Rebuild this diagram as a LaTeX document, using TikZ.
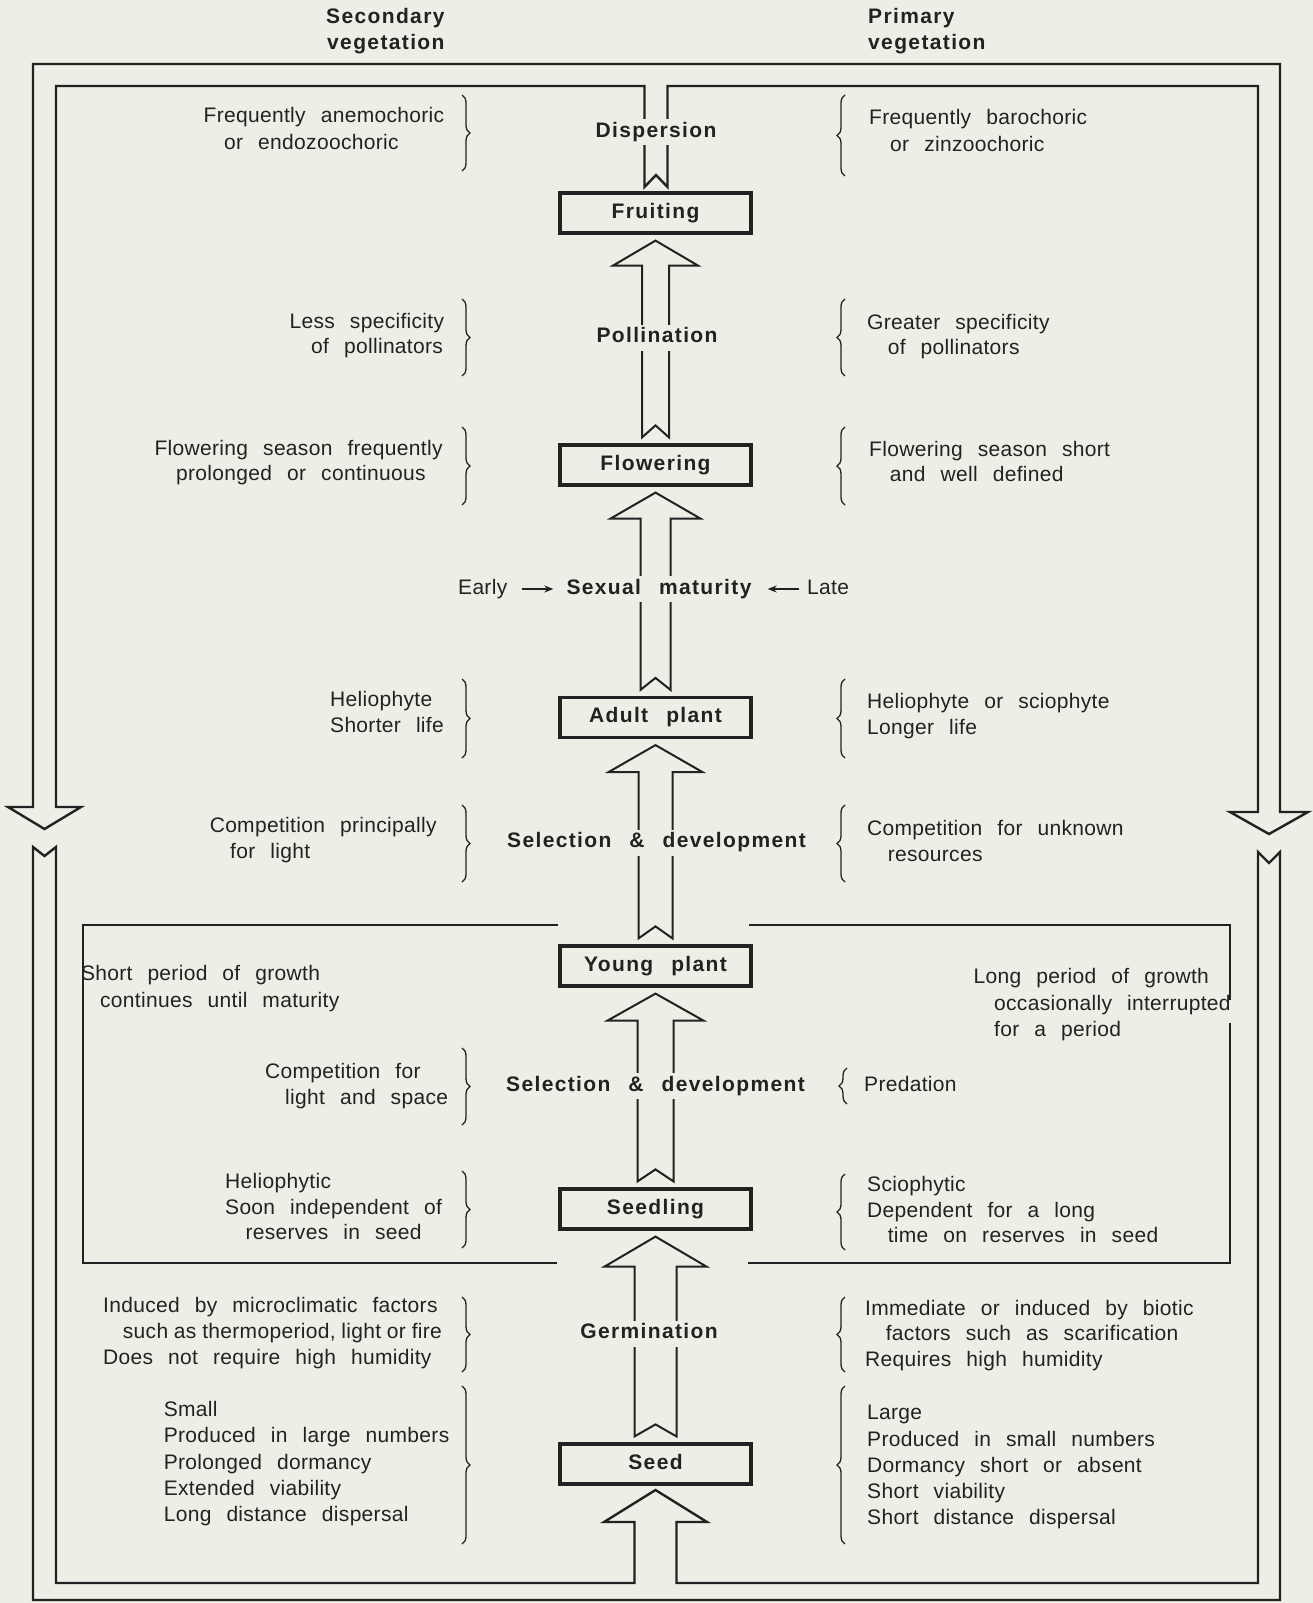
\documentclass[tikz,border=0pt]{standalone}
\usepackage{fontspec}
\setmainfont{Liberation Sans}
\newfontfamily\regfont{Liberation Sans}[LetterSpace=1.5,WordSpace=2.45]
\newfontfamily\lblfont{Liberation Sans}[LetterSpace=6.5,WordSpace=2.5]
\usetikzlibrary{calc,decorations.pathreplacing,arrows.meta}
\definecolor{bg}{RGB}{236,239,229}
\definecolor{ink}{RGB}{34,34,34}
\tikzset{
  txt/.style={inner sep=0pt, text height=15pt, text depth=5pt, anchor=west, text=ink,
    font=\regfont\fontsize{21}{26}\selectfont},
  lbl/.style={inner sep=3pt, text height=15pt, text depth=5pt, text=ink, fill=bg,
    font=\lblfont\bfseries\fontsize{21}{26}\selectfont},
  hdr/.style={lbl, fill=none, inner sep=0pt, anchor=west},
  stage/.style={draw=ink, line width=3.2pt, fill=bg, minimum width=191pt, minimum height=40pt,
    inner sep=0pt, text height=15pt, text depth=5pt, text=ink,
    font=\lblfont\bfseries\fontsize{21}{26}\selectfont},
  frame/.style={draw=ink, line width=2.4pt, line join=miter},
  blk/.style={draw=ink, line width=2pt, line join=miter},
  thinframe/.style={draw=ink, line width=1.5pt},
  brc/.style={draw=ink, line width=1.3pt, decorate, decoration={brace, amplitude=8pt}},
  sarr/.style={draw=ink, line width=1.4pt, -{Stealth[length=9pt,width=7pt]}},
}
\newcommand\tline[4]{\node[txt] (#1) at (#2,#3) {#4};}
% block arrow from lower node #1 up to upper node #2: shaft half width #3, head half width #4, head length #5
\newcommand\blockarrow[5]{%
  \draw[blk] let \p1=(#2.south), \p2=(#1.north) in
    (\x1-#3,\y2+6pt) -- (\x1-#3,\y1-6pt-#5) -- (\x1-#4,\y1-6pt-#5) -- (\x1,\y1-6pt)
    -- (\x1+#4,\y1-6pt-#5) -- (\x1+#3,\y1-6pt-#5) -- (\x1+#3,\y2+6pt) -- (\x1,\y2+18pt) -- cycle;}
\newcommand\leftbrc[3]{\draw[brc] (#1,#2) -- (#1,#3);}
\newcommand\rightbrc[3]{\draw[brc] (#1,#3) -- (#1,#2);}
\begin{document}
\begin{tikzpicture}[x=1pt,y=-1pt]
\useasboundingbox (0,0) rectangle (1313,1603);
\fill[bg] (0,0) rectangle (1313,1603);

% headers
\node[hdr] (h1a) at (326,19) {Secondary};
\node[hdr] (h1b) at (327,45) {vegetation};
\node[hdr] (h2a) at (868,19) {Primary};
\node[hdr] (h2b) at (868,45) {vegetation};

% outer loop, upper part
\draw[frame] (644.5,187) -- (656,175) -- (667.5,187) -- (667.5,86) -- (1258,86) -- (1258,812)
  -- (1230,812) -- (1269,834) -- (1308,812) -- (1280,812) -- (1280,64) -- (33,64) -- (33,807)
  -- (8,807) -- (44.5,829) -- (81,807) -- (56,807) -- (56,86) -- (644.5,86) -- cycle;
% outer loop, lower part
\draw[frame] (33,847) -- (44.5,856) -- (56,847) -- (56,1583) -- (634.5,1583) -- (634.5,1522)
  -- (604,1522) -- (655.5,1490) -- (707,1522) -- (676.5,1522) -- (676.5,1583) -- (1258,1583)
  -- (1258,852) -- (1269,863) -- (1280,852) -- (1280,1600) -- (33,1600) -- cycle;

% inner thin frame
\draw[thinframe] (558,925) -- (83,925) -- (83,1263) -- (557,1263);
\draw[thinframe] (749,925) -- (1230,925) -- (1230,1000);
\draw[thinframe] (1230,1023) -- (1230,1263) -- (748,1263);

% stage boxes
\node[stage] (fruit) at (655.5,213) {Fruiting};
\node[stage] (flower) at (655.5,465) {Flowering};
\node[stage] (adult) at (655.5,717.5) {Adult plant};
\node[stage] (young) at (655.5,966) {Young plant};
\node[stage] (seedling) at (655.5,1209) {Seedling};
\node[stage] (seed) at (655.5,1464) {Seed};

% block arrows
\blockarrow{flower}{fruit}{13.5pt}{42.5pt}{25pt}
\blockarrow{adult}{flower}{15pt}{45pt}{26pt}
\blockarrow{young}{adult}{17pt}{47pt}{27pt}
\blockarrow{seedling}{young}{18pt}{48pt}{27pt}
\blockarrow{seed}{seedling}{21pt}{51pt}{30pt}

% arrow labels
\node[lbl] (disp) at (656,132) {Dispersion};
\node[lbl] (poll) at (657,337.5) {Pollination};
\node[lbl] (sm) at (659,589) {Sexual maturity};
\node[lbl] (sel1) at (656.5,842.6) {Selection \& development};
\node[lbl] (sel2) at (655.5,1086) {Selection \& development};
\node[lbl] (germ) at (649,1333.5) {Germination};

\tline{early}{458}{589}{Early}
\tline{late}{807}{589}{Late}
\draw[sarr, shorten <=14pt, shorten >=10pt] (early.east) -- (sm.west);
\draw[sarr, shorten <=8pt, shorten >=13pt] (late.west) -- (sm.east);

% braces
\leftbrc{462}{95}{171}
\leftbrc{462}{299}{376}
\leftbrc{462}{427}{505}
\leftbrc{462}{679}{758}
\leftbrc{462}{805}{882}
\leftbrc{462}{1048}{1125}
\leftbrc{462}{1171}{1248}
\leftbrc{462}{1297}{1372}
\leftbrc{462}{1386}{1544}
\rightbrc{845}{95}{176}
\rightbrc{845}{299}{376}
\rightbrc{845}{427}{505}
\rightbrc{845}{679}{758}
\rightbrc{845}{805}{882}
\rightbrc{847}{1068}{1104}
\rightbrc{845}{1174}{1250}
\rightbrc{845}{1297}{1372}
\rightbrc{845}{1386}{1544}

% side texts
\tline{l1a}{203.5}{117.6}{Frequently anemochoric}
\tline{l1b}{224}{144.2}{or endozoochoric}
\tline{r1a}{869}{119.6}{Frequently barochoric}
\tline{r1b}{890}{146.2}{or zinzoochoric}
\tline{l2a}{289.4}{323}{Less specificity}
\tline{l2b}{311}{348.7}{of pollinators}
\tline{r2a}{867}{324}{Greater specificity}
\tline{r2b}{887.6}{349.7}{of pollinators}
\tline{l3a}{154.4}{450}{Flowering season frequently}
\tline{l3b}{176}{475.5}{prolonged or continuous}
\tline{r3a}{869}{451}{Flowering season short}
\tline{r3b}{889.7}{476.5}{and well defined}
\tline{l4a}{330}{701.5}{Heliophyte}
\tline{l4b}{330}{727}{Shorter life}
\tline{r4a}{867}{703.5}{Heliophyte or sciophyte}
\tline{r4b}{867}{729}{Longer life}
\tline{l5a}{209.6}{827}{Competition principally}
\tline{l5b}{230}{853}{for light}
\tline{r5a}{867}{830}{Competition for unknown}
\tline{r5b}{887.6}{856}{resources}
\tline{l6a}{80.8}{975.6}{Short period of growth}
\tline{l6b}{100}{1002}{continues until maturity}
\tline{r6a}{973.5}{978.6}{Long period of growth}
\tline{r6b}{994}{1005}{occasionally interrupted}
\tline{r6c}{994}{1031}{for a period}
\tline{l7a}{265}{1073.7}{Competition for}
\tline{l7b}{285}{1099}{light and space}
\tline{r7a}{864}{1086}{Predation}
\tline{l8a}{225}{1183}{Heliophytic}
\tline{l8b}{225}{1209}{Soon independent of}
\tline{l8c}{245.4}{1234}{reserves in seed}
\tline{r8a}{867}{1186}{Sciophytic}
\tline{r8b}{867}{1212}{Dependent for a long}
\tline{r8c}{887.6}{1237}{time on reserves in seed}
\tline{l9a}{103}{1307}{Induced by microclimatic factors}
\tline{l9b}{122.7}{1333.5}{{\spaceskip=5.8pt\relax such as thermoperiod, light or fire}}
\tline{l9c}{103}{1359}{Does not require high humidity}
\tline{r9a}{865}{1310}{Immediate or induced by biotic}
\tline{r9b}{885.6}{1335.5}{factors such as scarification}
\tline{r9c}{865}{1361}{Requires high humidity}
\tline{l10a}{163.6}{1411}{Small}
\tline{l10b}{163.6}{1437.8}{Produced in large numbers}
\tline{l10c}{163.6}{1464}{Prolonged dormancy}
\tline{l10d}{163.6}{1490}{Extended viability}
\tline{l10e}{163.6}{1516.5}{Long distance dispersal}
\tline{r10a}{867}{1414}{Large}
\tline{r10b}{867}{1441}{Produced in small numbers}
\tline{r10c}{867}{1467.5}{Dormancy short or absent}
\tline{r10d}{867}{1493}{Short viability}
\tline{r10e}{867}{1519.6}{Short distance dispersal}
\end{tikzpicture}
\end{document}
